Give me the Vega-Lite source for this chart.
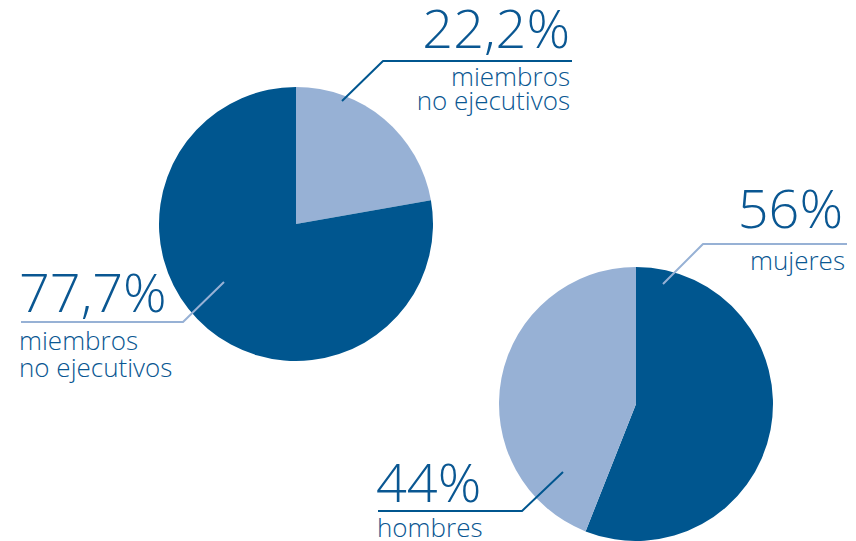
{
  "$schema": "https://vega.github.io/schema/vega-lite/v6.json",
  "width": 856,
  "height": 541,
  "padding": 0,
  "autosize": {"type": "none"},
  "background": "white",
  "config": {"view": {"stroke": null}},
  "datasets": {
    "pies": [
      {"grafico": "consejo", "segmento": "miembros no ejecutivos (22,2%)", "valor": 22.2, "tono": "claro", "orden": 1, "cx": 296, "cy": 224},
      {"grafico": "consejo", "segmento": "miembros no ejecutivos (77,7%)", "valor": 77.7, "tono": "oscuro", "orden": 2, "cx": 296, "cy": 224},
      {"grafico": "genero", "segmento": "mujeres", "valor": 56, "tono": "oscuro", "orden": 1, "cx": 636, "cy": 404},
      {"grafico": "genero", "segmento": "hombres", "valor": 44, "tono": "claro", "orden": 2, "cx": 636, "cy": 404}
    ],
    "lines": [
      {"guia": "a", "paso": 1, "x": 342, "y": 101, "tono": "oscuro"},
      {"guia": "a", "paso": 2, "x": 383, "y": 61, "tono": "oscuro"},
      {"guia": "a", "paso": 3, "x": 572, "y": 61, "tono": "oscuro"},
      {"guia": "b", "paso": 1, "x": 224, "y": 282, "tono": "claro"},
      {"guia": "b", "paso": 2, "x": 183, "y": 322, "tono": "claro"},
      {"guia": "b", "paso": 3, "x": 21, "y": 322, "tono": "claro"},
      {"guia": "c", "paso": 1, "x": 663, "y": 284, "tono": "claro"},
      {"guia": "c", "paso": 2, "x": 703, "y": 244, "tono": "claro"},
      {"guia": "c", "paso": 3, "x": 847, "y": 244, "tono": "claro"},
      {"guia": "d", "paso": 1, "x": 563, "y": 472, "tono": "oscuro"},
      {"guia": "d", "paso": 2, "x": 522, "y": 511, "tono": "oscuro"},
      {"guia": "d", "paso": 3, "x": 378, "y": 511, "tono": "oscuro"}
    ],
    "labels": [
      {"texto": "22,2%", "tipo": "cifra", "lado": "derecha", "x": 570, "y": 48},
      {"texto": "56%", "tipo": "cifra", "lado": "derecha", "x": 843, "y": 228},
      {"texto": "77,7%", "tipo": "cifra", "lado": "izquierda", "x": 19, "y": 312},
      {"texto": "44%", "tipo": "cifra", "lado": "izquierda", "x": 376, "y": 502},
      {"texto": "miembros", "tipo": "rotulo", "lado": "derecha", "x": 570, "y": 86},
      {"texto": "no ejecutivos", "tipo": "rotulo", "lado": "derecha", "x": 570, "y": 110},
      {"texto": "mujeres", "tipo": "rotulo", "lado": "derecha", "x": 845, "y": 270},
      {"texto": "miembros", "tipo": "rotulo", "lado": "izquierda", "x": 19, "y": 350},
      {"texto": "no ejecutivos", "tipo": "rotulo", "lado": "izquierda", "x": 19, "y": 377},
      {"texto": "hombres", "tipo": "rotulo", "lado": "izquierda", "x": 377, "y": 537}
    ]
  },
  "layer": [
    {
      "data": {"name": "pies"},
      "transform": [{"filter": "datum.grafico === 'consejo'"}],
      "mark": {"type": "arc", "radius": 137, "stroke": null},
      "encoding": {
        "x": {"field": "cx", "type": "quantitative", "scale": {"domain": [0, 856], "nice": false, "zero": false}, "axis": null},
        "y": {"field": "cy", "type": "quantitative", "scale": {"domain": [0, 541], "nice": false, "zero": false, "reverse": true}, "axis": null},
        "theta": {"field": "valor", "type": "quantitative", "stack": true},
        "order": {"field": "orden", "type": "quantitative"},
        "color": {"field": "tono", "type": "nominal", "scale": {"domain": ["claro", "oscuro"], "range": ["#97b1d5", "#00568f"]}, "legend": null}
      }
    },
    {
      "data": {"name": "pies"},
      "transform": [{"filter": "datum.grafico === 'genero'"}],
      "mark": {"type": "arc", "radius": 137, "stroke": null},
      "encoding": {
        "x": {"field": "cx", "type": "quantitative", "axis": null},
        "y": {"field": "cy", "type": "quantitative", "axis": null},
        "theta": {"field": "valor", "type": "quantitative", "stack": true},
        "order": {"field": "orden", "type": "quantitative"},
        "color": {"field": "tono", "type": "nominal", "legend": null}
      }
    },
    {
      "data": {"name": "lines"},
      "mark": {"type": "line", "strokeWidth": 2, "strokeJoin": "round", "interpolate": "linear"},
      "encoding": {
        "x": {"field": "x", "type": "quantitative", "axis": null},
        "y": {"field": "y", "type": "quantitative", "axis": null},
        "detail": {"field": "guia", "type": "nominal"},
        "order": {"field": "paso", "type": "quantitative"},
        "color": {"field": "tono", "type": "nominal", "legend": null}
      }
    },
    {
      "data": {"name": "labels"},
      "transform": [{"filter": "datum.tipo === 'cifra' && datum.lado === 'derecha'"}],
      "mark": {"type": "text", "align": "right", "baseline": "alphabetic", "font": "Open Sans", "fontWeight": 300, "fontSize": 54, "color": "#0a5792"},
      "encoding": {
        "x": {"field": "x", "type": "quantitative", "axis": null},
        "y": {"field": "y", "type": "quantitative", "axis": null},
        "text": {"field": "texto"}
      }
    },
    {
      "data": {"name": "labels"},
      "transform": [{"filter": "datum.tipo === 'cifra' && datum.lado === 'izquierda'"}],
      "mark": {"type": "text", "align": "left", "baseline": "alphabetic", "font": "Open Sans", "fontWeight": 300, "fontSize": 54, "color": "#0a5792"},
      "encoding": {
        "x": {"field": "x", "type": "quantitative", "axis": null},
        "y": {"field": "y", "type": "quantitative", "axis": null},
        "text": {"field": "texto"}
      }
    },
    {
      "data": {"name": "labels"},
      "transform": [{"filter": "datum.tipo === 'rotulo' && datum.lado === 'derecha'"}],
      "mark": {"type": "text", "align": "right", "baseline": "alphabetic", "font": "Open Sans", "fontWeight": 300, "fontSize": 26, "color": "#0a5792"},
      "encoding": {
        "x": {"field": "x", "type": "quantitative", "axis": null},
        "y": {"field": "y", "type": "quantitative", "axis": null},
        "text": {"field": "texto"}
      }
    },
    {
      "data": {"name": "labels"},
      "transform": [{"filter": "datum.tipo === 'rotulo' && datum.lado === 'izquierda'"}],
      "mark": {"type": "text", "align": "left", "baseline": "alphabetic", "font": "Open Sans", "fontWeight": 300, "fontSize": 26, "color": "#0a5792"},
      "encoding": {
        "x": {"field": "x", "type": "quantitative", "axis": null},
        "y": {"field": "y", "type": "quantitative", "axis": null},
        "text": {"field": "texto"}
      }
    }
  ],
  "resolve": {"scale": {"theta": "independent"}}
}
